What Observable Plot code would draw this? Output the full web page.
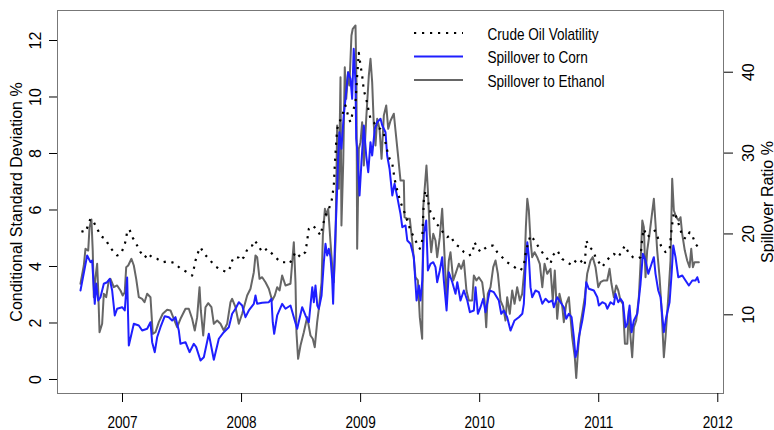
<!DOCTYPE html>
<html><head><meta charset="utf-8">
<script src="https://cdn.jsdelivr.net/npm/d3@7"></script>
<script src="https://cdn.jsdelivr.net/npm/@observablehq/plot@0.6"></script>
<style>
body{margin:0;background:#fff;}
#wrap{position:relative;width:774px;height:430px;overflow:hidden;}
#wrap svg{position:absolute;left:0;top:0;}
g[aria-label="y-axis tick label"], g[aria-label="y-axis label"]{font-family:"Liberation Sans",Arial,sans-serif;}
</style></head><body><div id="wrap"></div>
<script>
const yearTicks = [2007, 2008, 2009, 2010, 2011, 2012];
const leftTicks = [0, 2, 4, 6, 8, 10, 12];
const rightTicks = [10, 20, 30, 40];
const leftTitle = "Conditional Standard Deviation %";
const rightTitle = "Spillover Ratio %";
const legendLabels = ["Crude Oil Volatility", "Spillover to Corn", "Spillover to Ethanol"];

// [decimal year, conditional std dev %] (left axis)
const crudeOil = [[2006.655,5.25],[2006.689,5.21],[2006.731,5.69],[2006.759,5.57],[2006.787,5.33],[2006.823,5.06],[2006.857,4.98],[2006.885,4.74],[2006.922,4.54],[2006.955,4.39],[2006.983,4.43],[2007.011,4.68],[2007.031,4.98],[2007.039,5.27],[2007.059,5.30],[2007.086,5.02],[2007.123,4.74],[2007.151,4.51],[2007.187,4.31],[2007.216,4.47],[2007.249,4.31],[2007.291,4.27],[2007.338,4.15],[2007.384,4.19],[2007.439,4.12],[2007.487,3.92],[2007.529,3.83],[2007.585,3.68],[2007.599,3.92],[2007.613,4.21],[2007.636,4.51],[2007.655,4.68],[2007.683,4.47],[2007.725,4.27],[2007.781,4.00],[2007.837,3.86],[2007.879,3.80],[2007.907,3.98],[2007.921,4.21],[2007.943,4.35],[2007.977,4.31],[2007.991,4.21],[2008.019,4.33],[2008.056,4.68],[2008.089,4.74],[2008.111,4.92],[2008.140,4.74],[2008.173,4.51],[2008.215,4.63],[2008.243,4.51],[2008.285,4.33],[2008.327,4.15],[2008.369,4.15],[2008.403,4.10],[2008.425,4.27],[2008.453,4.51],[2008.495,4.33],[2008.537,4.51],[2008.565,5.33],[2008.599,5.45],[2008.627,5.33],[2008.663,5.10],[2008.682,5.45],[2008.705,5.81],[2008.733,6.04],[2008.755,6.28],[2008.775,6.87],[2008.783,7.58],[2008.795,8.40],[2008.803,8.87],[2008.823,9.11],[2008.845,9.35],[2008.873,9.70],[2008.901,9.23],[2008.915,9.11],[2008.934,9.46],[2008.957,9.82],[2008.971,10.76],[2008.985,11.56],[2008.999,11.12],[2009.013,10.76],[2009.027,10.23],[2009.047,9.94],[2009.064,9.58],[2009.083,9.23],[2009.111,9.10],[2009.139,8.92],[2009.167,8.87],[2009.195,8.70],[2009.218,8.18],[2009.243,7.82],[2009.266,7.65],[2009.285,7.10],[2009.308,6.69],[2009.335,6.28],[2009.363,5.98],[2009.391,5.63],[2009.419,5.27],[2009.447,5.04],[2009.475,4.80],[2009.497,4.63],[2009.517,4.92],[2009.531,6.34],[2009.545,6.69],[2009.565,6.34],[2009.587,5.92],[2009.610,5.74],[2009.637,5.51],[2009.665,5.39],[2009.699,5.16],[2009.727,5.04],[2009.755,5.10],[2009.783,4.86],[2009.811,4.74],[2009.839,4.68],[2009.867,4.51],[2009.909,4.39],[2009.937,4.45],[2009.957,4.86],[2009.979,4.68],[2010.007,4.51],[2010.041,4.63],[2010.077,4.74],[2010.114,4.74],[2010.147,4.51],[2010.189,4.33],[2010.231,4.15],[2010.273,4.04],[2010.311,3.92],[2010.343,3.86],[2010.371,4.04],[2010.385,4.45],[2010.405,4.80],[2010.427,5.10],[2010.450,4.98],[2010.477,4.80],[2010.505,4.63],[2010.534,4.45],[2010.567,4.28],[2010.595,4.10],[2010.614,4.39],[2010.651,4.57],[2010.693,4.27],[2010.735,4.15],[2010.777,4.04],[2010.819,4.27],[2010.847,4.21],[2010.883,4.04],[2010.895,4.92],[2010.923,4.68],[2010.951,4.57],[2010.973,4.33],[2011.001,4.15],[2011.030,3.98],[2011.057,4.15],[2011.091,4.33],[2011.127,4.45],[2011.164,4.33],[2011.198,4.57],[2011.220,4.74],[2011.248,4.51],[2011.287,4.33],[2011.324,4.27],[2011.351,4.33],[2011.366,5.04],[2011.379,5.33],[2011.407,5.04],[2011.444,5.16],[2011.472,5.27],[2011.500,4.98],[2011.528,4.68],[2011.561,4.51],[2011.595,4.57],[2011.612,5.33],[2011.631,5.92],[2011.659,5.69],[2011.679,5.39],[2011.706,5.04],[2011.735,4.98],[2011.763,5.21],[2011.791,5.04],[2011.813,4.80],[2011.836,4.68]];

// [decimal year, spillover ratio %] (right axis)
const spilloverCorn = [[2006.647,13.01],[2006.703,17.34],[2006.731,16.51],[2006.745,16.72],[2006.767,11.36],[2006.779,13.87],[2006.796,11.77],[2006.815,12.18],[2006.843,13.84],[2006.871,14.03],[2006.893,14.45],[2006.913,13.01],[2006.935,9.92],[2006.955,10.75],[2006.997,10.94],[2007.019,10.54],[2007.039,14.62],[2007.053,6.21],[2007.095,8.89],[2007.137,8.68],[2007.165,8.06],[2007.207,8.27],[2007.235,9.09],[2007.249,6.62],[2007.271,5.38],[2007.291,7.23],[2007.319,8.47],[2007.355,9.83],[2007.389,9.71],[2007.417,9.30],[2007.445,9.71],[2007.473,8.06],[2007.487,6.42],[2007.529,6.62],[2007.563,5.38],[2007.599,6.42],[2007.619,6.00],[2007.655,4.35],[2007.683,4.76],[2007.725,7.65],[2007.767,4.44],[2007.809,7.04],[2007.851,7.85],[2007.893,8.47],[2007.921,10.13],[2007.949,10.75],[2007.977,11.56],[2008.005,11.15],[2008.033,9.71],[2008.061,10.54],[2008.103,11.36],[2008.117,12.39],[2008.131,11.36],[2008.173,11.49],[2008.229,11.56],[2008.251,11.98],[2008.262,9.09],[2008.274,7.65],[2008.299,9.92],[2008.341,11.36],[2008.369,10.75],[2008.411,11.15],[2008.439,9.71],[2008.467,8.27],[2008.509,10.94],[2008.537,9.92],[2008.565,9.09],[2008.594,13.42],[2008.607,11.56],[2008.621,13.63],[2008.636,11.15],[2008.649,10.75],[2008.672,12.39],[2008.691,16.51],[2008.705,18.78],[2008.719,17.34],[2008.733,18.16],[2008.747,17.13],[2008.761,14.45],[2008.769,11.36],[2008.783,18.16],[2008.797,23.11],[2008.811,29.29],[2008.822,32.58],[2008.839,30.53],[2008.858,34.65],[2008.873,36.71],[2008.895,40.00],[2008.915,39.19],[2008.929,36.71],[2008.942,42.90],[2008.957,38.77],[2008.963,31.77],[2008.971,30.53],[2008.991,24.76],[2009.007,28.87],[2009.027,33.41],[2009.047,29.70],[2009.064,27.64],[2009.083,31.35],[2009.097,29.70],[2009.119,33.00],[2009.139,33.82],[2009.167,34.24],[2009.182,33.41],[2009.209,32.58],[2009.223,29.70],[2009.243,28.06],[2009.266,24.76],[2009.285,26.20],[2009.308,24.55],[2009.335,22.49],[2009.350,20.84],[2009.377,21.05],[2009.392,19.19],[2009.419,18.78],[2009.447,17.13],[2009.461,13.84],[2009.470,11.77],[2009.489,13.63],[2009.503,11.77],[2009.518,14.25],[2009.531,20.02],[2009.551,21.66],[2009.565,15.48],[2009.587,16.31],[2009.610,16.51],[2009.629,15.89],[2009.643,14.03],[2009.665,15.48],[2009.685,17.13],[2009.699,14.25],[2009.722,10.54],[2009.741,15.27],[2009.770,14.03],[2009.797,12.60],[2009.812,14.03],[2009.839,11.77],[2009.867,13.01],[2009.896,11.77],[2009.918,10.33],[2009.951,10.54],[2009.965,13.42],[2009.985,10.13],[2010.007,10.94],[2010.030,11.98],[2010.049,10.33],[2010.085,13.01],[2010.119,12.80],[2010.161,11.77],[2010.181,10.13],[2010.203,10.54],[2010.231,9.71],[2010.259,8.06],[2010.293,9.30],[2010.329,9.71],[2010.358,10.13],[2010.371,11.36],[2010.385,15.89],[2010.400,18.98],[2010.413,17.13],[2010.427,13.42],[2010.441,12.18],[2010.469,13.01],[2010.497,12.80],[2010.526,11.36],[2010.553,11.98],[2010.581,11.56],[2010.610,11.77],[2010.623,10.94],[2010.651,12.18],[2010.679,11.56],[2010.707,10.94],[2010.727,9.51],[2010.749,10.13],[2010.772,9.71],[2010.791,7.23],[2010.805,4.76],[2010.820,5.59],[2010.833,7.23],[2010.862,9.30],[2010.884,11.36],[2010.895,14.03],[2010.917,13.22],[2010.959,13.01],[2010.988,12.18],[2011.001,11.15],[2011.030,11.56],[2011.057,11.36],[2011.072,10.75],[2011.099,11.56],[2011.127,11.28],[2011.141,12.60],[2011.164,11.56],[2011.183,11.98],[2011.203,11.56],[2011.225,8.47],[2011.240,8.89],[2011.259,11.15],[2011.276,7.85],[2011.295,9.30],[2011.324,10.13],[2011.351,13.84],[2011.371,17.55],[2011.393,16.72],[2011.416,15.07],[2011.444,16.31],[2011.463,17.13],[2011.477,15.07],[2011.500,13.01],[2011.519,12.18],[2011.547,7.85],[2011.567,9.71],[2011.595,11.56],[2011.612,15.07],[2011.626,18.57],[2011.645,17.13],[2011.668,14.65],[2011.702,14.86],[2011.729,14.25],[2011.757,13.63],[2011.786,14.25],[2011.813,14.25],[2011.828,14.65],[2011.841,14.03]];

const spilloverEthanol = [[2006.647,13.84],[2006.675,16.10],[2006.689,18.16],[2006.712,17.95],[2006.723,20.84],[2006.739,21.79],[2006.750,17.95],[2006.759,12.18],[2006.773,14.65],[2006.787,16.31],[2006.796,13.01],[2006.807,7.85],[2006.829,8.89],[2006.843,12.60],[2006.863,12.18],[2006.885,14.25],[2006.899,14.45],[2006.927,13.42],[2006.955,13.63],[2006.983,13.01],[2007.002,12.39],[2007.019,12.80],[2007.031,15.89],[2007.048,16.10],[2007.075,16.93],[2007.095,16.10],[2007.115,14.45],[2007.137,12.18],[2007.165,11.98],[2007.185,11.56],[2007.207,12.60],[2007.235,12.18],[2007.254,7.65],[2007.277,7.85],[2007.305,9.09],[2007.338,10.13],[2007.375,10.62],[2007.403,10.54],[2007.431,9.51],[2007.459,8.47],[2007.487,9.51],[2007.529,10.75],[2007.557,10.75],[2007.585,9.51],[2007.607,8.06],[2007.627,9.71],[2007.647,13.42],[2007.658,10.54],[2007.678,7.44],[2007.697,10.94],[2007.720,11.44],[2007.747,10.94],[2007.767,8.89],[2007.795,9.30],[2007.823,8.89],[2007.851,8.06],[2007.879,8.89],[2007.907,11.56],[2007.921,11.98],[2007.949,10.94],[2007.977,8.89],[2008.005,10.13],[2008.047,12.39],[2008.075,13.22],[2008.103,15.27],[2008.117,17.34],[2008.131,17.13],[2008.151,14.45],[2008.173,14.65],[2008.201,14.03],[2008.229,13.22],[2008.257,11.77],[2008.279,12.39],[2008.299,13.42],[2008.319,13.01],[2008.341,14.86],[2008.369,13.63],[2008.411,13.84],[2008.439,18.98],[2008.453,14.03],[2008.461,7.85],[2008.475,4.56],[2008.495,6.21],[2008.523,7.85],[2008.551,9.71],[2008.579,7.44],[2008.598,7.04],[2008.615,6.00],[2008.635,9.09],[2008.649,10.75],[2008.672,14.03],[2008.683,19.81],[2008.700,23.11],[2008.712,22.28],[2008.728,23.11],[2008.747,18.98],[2008.761,16.10],[2008.775,14.03],[2008.789,18.98],[2008.803,33.41],[2008.817,25.58],[2008.831,39.39],[2008.839,21.05],[2008.854,28.87],[2008.867,40.62],[2008.879,36.71],[2008.895,40.00],[2008.906,38.36],[2008.923,44.54],[2008.934,45.37],[2008.957,45.78],[2008.965,38.77],[2008.971,18.16],[2008.985,30.53],[2008.999,31.35],[2009.013,33.82],[2009.027,28.47],[2009.047,34.24],[2009.069,39.60],[2009.083,41.66],[2009.097,38.77],[2009.111,33.41],[2009.125,30.94],[2009.139,34.24],[2009.159,33.00],[2009.176,29.29],[2009.195,34.65],[2009.215,35.89],[2009.232,33.00],[2009.251,34.00],[2009.279,34.86],[2009.293,32.79],[2009.313,29.91],[2009.335,26.61],[2009.363,26.61],[2009.369,22.07],[2009.391,21.87],[2009.413,21.87],[2009.433,19.19],[2009.461,14.65],[2009.481,14.25],[2009.497,9.71],[2009.517,7.04],[2009.526,23.31],[2009.539,25.78],[2009.553,28.47],[2009.565,25.37],[2009.581,20.02],[2009.593,17.74],[2009.610,20.02],[2009.629,19.19],[2009.643,17.13],[2009.665,19.60],[2009.685,23.11],[2009.699,19.19],[2009.721,12.18],[2009.741,16.72],[2009.755,17.74],[2009.778,14.25],[2009.797,15.07],[2009.825,16.31],[2009.845,15.69],[2009.867,16.72],[2009.889,13.01],[2009.909,11.77],[2009.937,11.77],[2009.951,14.86],[2009.973,14.25],[2009.993,14.65],[2010.021,14.03],[2010.041,11.77],[2010.055,8.47],[2010.068,12.60],[2010.091,13.42],[2010.114,15.89],[2010.133,16.72],[2010.153,15.07],[2010.175,11.77],[2010.198,10.94],[2010.217,9.30],[2010.231,12.18],[2010.253,10.13],[2010.273,13.01],[2010.293,11.36],[2010.315,13.42],[2010.337,11.77],[2010.357,12.60],[2010.377,15.89],[2010.388,20.84],[2010.400,24.35],[2010.413,22.90],[2010.427,19.19],[2010.441,17.13],[2010.461,17.74],[2010.483,17.13],[2010.505,16.31],[2010.526,13.42],[2010.545,16.31],[2010.567,15.07],[2010.595,15.69],[2010.614,11.77],[2010.631,15.48],[2010.651,9.51],[2010.670,12.60],[2010.693,11.15],[2010.707,9.09],[2010.727,11.36],[2010.749,12.18],[2010.763,9.71],[2010.777,7.23],[2010.799,4.76],[2010.811,2.19],[2010.828,6.00],[2010.847,8.89],[2010.866,10.54],[2010.883,12.18],[2010.903,15.07],[2010.931,16.72],[2010.950,17.13],[2010.973,15.89],[2010.996,13.42],[2011.015,14.03],[2011.043,14.25],[2011.071,14.25],[2011.091,15.69],[2011.107,13.84],[2011.127,12.18],[2011.147,13.63],[2011.164,13.01],[2011.183,11.77],[2011.203,11.36],[2011.220,6.42],[2011.240,6.42],[2011.253,10.54],[2011.267,7.23],[2011.281,4.76],[2011.295,8.47],[2011.315,9.30],[2011.337,12.18],[2011.351,16.31],[2011.366,21.66],[2011.379,20.84],[2011.393,14.65],[2011.407,17.95],[2011.427,20.02],[2011.444,22.07],[2011.463,24.35],[2011.477,21.26],[2011.491,17.95],[2011.511,14.65],[2011.527,10.94],[2011.547,4.76],[2011.561,7.23],[2011.584,12.18],[2011.603,16.72],[2011.617,26.82],[2011.631,22.90],[2011.651,22.07],[2011.673,21.66],[2011.687,22.07],[2011.701,20.02],[2011.723,17.95],[2011.743,16.72],[2011.763,15.89],[2011.777,18.16],[2011.791,15.89],[2011.805,16.51],[2011.841,16.51]];

// scale extents (R-style padded ranges)
const xDomain = [2006.454, 2012.048];
const leftDomain = [-0.496, 13.062];
const rightDomain = [0.272, 47.63];
const toLeft = d3.scaleLinear(rightDomain, leftDomain);

const oilRows = crudeOil.map(([t, v]) => ({t, v}));
const cornRows = spilloverCorn.map(([t, v]) => ({t, v: toLeft(v)}));
const ethRows = spilloverEthanol.map(([t, v]) => ({t, v: toLeft(v)}));

const styles = [
  {stroke: "#000", strokeWidth: 2.2, strokeDasharray: "2.2,5.8", strokeLinecap: "butt"},
  {stroke: "#1f1fff", strokeWidth: 2, strokeDasharray: null, strokeLinecap: "round"},
  {stroke: "#666", strokeWidth: 2, strokeDasharray: null, strokeLinecap: "round"}
];
const sans = "'Liberation Sans',Arial,sans-serif";
const squeeze = 0.85; // horizontal text is set condensed in the reference

const chart = Plot.plot({
  width: 774, height: 430,
  marginLeft: 57, marginRight: 51, marginTop: 10, marginBottom: 37,
  x: {domain: xDomain},
  y: {domain: leftDomain},
  style: {fontFamily: sans, fontSize: "16px", color: "#000", background: "#fff"},
  marks: [
    Plot.line(ethRows, {x: "t", y: "v", ...styles[2]}),
    Plot.line(cornRows, {x: "t", y: "v", ...styles[1]}),
    Plot.line(oilRows, {x: "t", y: "v", ...styles[0]}),
    Plot.frame({stroke: "#777"}),
    Plot.axisX(yearTicks, {tickSize: 9, tickPadding: 14, tickFormat: d => String(d), label: null, stroke: "#000"}),
    Plot.axisY(leftTicks, {anchor: "left", tickSize: 8, tickPadding: 9, tickRotate: -90, tickFormat: d => String(d),
      label: leftTitle, labelAnchor: "center", labelOffset: 47, labelArrow: "none"}),
    Plot.axisY(rightTicks.map(toLeft), {anchor: "right", tickSize: 9, tickPadding: 21, tickRotate: -90,
      tickFormat: d => String(Math.round(toLeft.invert(d))),
      label: rightTitle, labelAnchor: "center", labelOffset: 49, labelArrow: "none"})
  ]
});
const wrap = document.getElementById("wrap");
wrap.appendChild(chart);

// condense the horizontal year labels around their own anchor
d3.select(chart).selectAll('g[aria-label="x-axis tick label"] text').each(function () {
  const tr = this.getAttribute("transform") || "";
  const x = +(this.getAttribute("x") || 0);
  this.setAttribute("transform", `${tr} translate(${x},0) scale(${squeeze},1) translate(${-x},0)`);
});

// legend (top, inside plot area)
const leg = d3.select(wrap).append("svg")
  .attr("width", 774).attr("height", 430)
  .style("pointer-events", "none")
  .style("font-family", sans).style("font-size", "16px");
const rowY = [33, 56.5, 80];
legendLabels.forEach((lab, i) => {
  const s = styles[i];
  leg.append("line").attr("x1", 414).attr("x2", 463).attr("y1", rowY[i]).attr("y2", rowY[i])
    .attr("stroke", s.stroke).attr("stroke-width", s.strokeWidth)
    .attr("stroke-dasharray", s.strokeDasharray).attr("stroke-linecap", "butt");
  leg.append("text")
    .attr("transform", `translate(487.5,${rowY[i] + 6.5}) scale(${squeeze},1)`)
    .attr("fill", "#000").text(lab);
});
</script>
</body></html>
